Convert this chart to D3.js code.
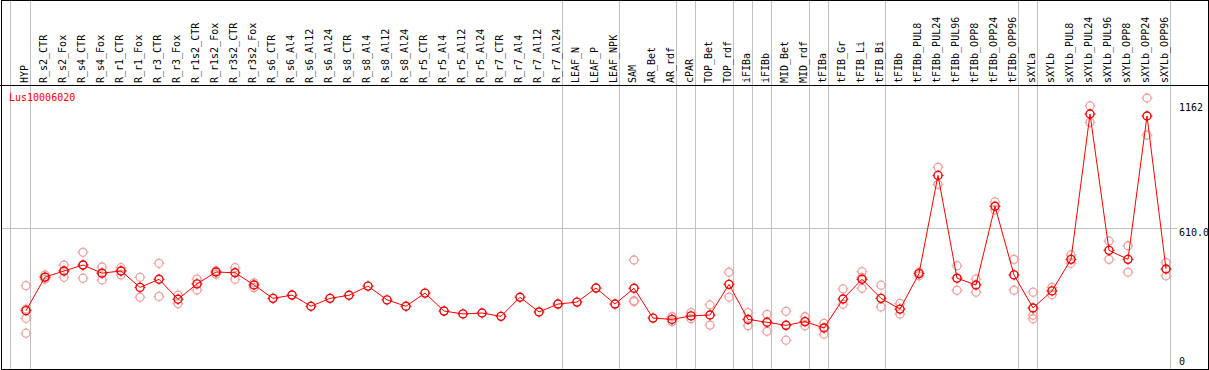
<!DOCTYPE html>
<html>
<head>
<meta charset="utf-8">
<script src="https://cdn.jsdelivr.net/npm/d3@7"></script>
<style>
  body { margin: 0; background: #fff; }
  text { font-family: "DejaVu Sans Mono", monospace; font-size: 10px; }
</style>
</head>
<body>
<div id="chart"></div>
<script>
// datos del gen
const geneId = 'Lus10006020';

const samples = ['HYP',
  'R_s2_CTR','R_s2_Fox','R_s4_CTR','R_s4_Fox','R_r1_CTR','R_r1_Fox','R_r3_CTR','R_r3_Fox',
  'R_r1s2_CTR','R_r1s2_Fox','R_r3s2_CTR','R_r3s2_Fox',
  'R_s6_CTR','R_s6_Al4','R_s6_Al12','R_s6_Al24','R_s8_CTR','R_s8_Al4','R_s8_Al12','R_s8_Al24',
  'R_r5_CTR','R_r5_Al4','R_r5_Al12','R_r5_Al24','R_r7_CTR','R_r7_Al4','R_r7_Al12','R_r7_Al24',
  'LEAF_N','LEAF_P','LEAF_NPK','SAM','AR_Bet','AR_rdf','cPAR','TOP_Bet','TOP_rdf',
  'iFIBa','iFIBb','MID_Bet','MID_rdf','tFIBa','tFIB_Gr','tFIB_Li','tFIB_Bi',
  'tFIBb','tFIBb_PUL8','tFIBb_PUL24','tFIBb_PUL96','tFIBb_OPP8','tFIBb_OPP24','tFIBb_OPP96',
  'sXYLa','sXYLb','sXYLb_PUL8','sXYLb_PUL24','sXYLb_PUL96','sXYLb_OPP8','sXYLb_OPP24','sXYLb_OPP96'];

const means = [233,
  386, 414, 441, 404, 414, 339, 376, 285,
  355, 409, 406, 350,
  289, 304, 253, 289, 303, 345, 282, 253,
  313, 231, 218, 222, 207, 294, 227, 263,
  272, 336, 263, 335, 199, 193, 209, 213, 353,
  193, 180, 166, 183, 154, 286, 376, 289,
  240, 402, 850, 381, 350, 709, 396,
  245, 323, 467, 1130, 508, 467, 1121, 423];

const replicates = [[347, 240, 198, 130],
  [396, 385, 376], [441, 414, 385], [499, 441, 381], [432, 404, 373], [429, 414, 396], [385, 294], [449, 298], [304, 265],
  [377, 327], [415, 399], [429, 376], [360, 338],
  [], [], [], [], [], [], [], [],
  [], [], [], [], [], [], [], [],
  [], [], [], [464, 278, 274], [], [205, 183], [224, 196], [259, 167], [408, 295],
  [224, 164], [216, 139], [230, 98], [205, 164], [175, 125], [332, 262], [411, 385, 335], [349, 250],
  [266, 218], [409, 392], [887, 809], [438, 326], [377, 317], [729, 692], [467, 326],
  [317, 212, 196], [339, 306], [487, 449], [1167, 1092], [551, 467], [529, 408], [1203, 1034], [452, 392]];

// índices de la última muestra de cada grupo
const groupEnds = [0, 28, 31, 34, 35, 37, 38, 39, 41, 42, 45, 52, 53, 60];

const yTicks = [0, 610, 1162];
const yTickLabels = ['0', '610.0', '1162'];

// dimensiones
const width = 1209, height = 370;
const headerH = 85;

const svg = d3.select('#chart').append('svg')
  .attr('width', width)
  .attr('height', height);

const x = d3.scalePoint()
  .domain(samples)
  .range([26, 1166]);

const y = d3.scaleLinear()
  .domain([0, 1162])
  .range([361.7, 107]);

// separadores de grupo
const sepX = [x(samples[0]) - 15.5].concat(groupEnds.map(function(i) { return x(samples[i]) + 4.5; }));
svg.append('g')
  .selectAll('line')
  .data(sepX)
  .enter().append('line')
  .attr('x1', function(d) { return d; })
  .attr('x2', function(d) { return d; })
  .attr('y1', 0)
  .attr('y2', height)
  .attr('stroke', '#c0c0c0')
  .attr('stroke-width', 1);

// línea horizontal de referencia
svg.append('line')
  .attr('x1', 1)
  .attr('x2', 1177)
  .attr('y1', Math.round(y(610)) + 0.5)
  .attr('y2', Math.round(y(610)) + 0.5)
  .attr('stroke', '#c0c0c0');

// eje derecho
const yAxis = function(g) {
  g.call(d3.axisRight(y).tickValues(yTicks).tickSize(0).tickPadding(2)
    .tickFormat(function(d, i) { return yTickLabels[i]; }));
  g.call(function(g) { g.select('.domain').remove(); });
  g.selectAll('text')
    .attr('fill', '#000')
    .style('font-family', '"DejaVu Sans Mono", monospace')
    .style('font-size', '10px')
    .attr('dy', function(d) { return d === 610 ? '0.75em' : '0.32em'; });
};
svg.append('g')
  .attr('transform', 'translate(1177,0)')
  .call(yAxis);

// etiquetas de muestras
svg.append('g')
  .selectAll('text')
  .data(samples)
  .enter().append('text')
  .attr('transform', function(d) { return 'translate(' + (x(d) + 2) + ',83) rotate(-90)'; })
  .attr('fill', '#000')
  .text(function(d) { return d; });

// marcadores
const marker = function(sel, color, sw) {
  sel.append('circle')
    .attr('r', 4)
    .attr('fill', 'none')
    .attr('stroke', color)
    .attr('stroke-width', sw);
  sel.append('path')
    .attr('d', 'M0,-5.5V-4M0,4V5.5M-5.5,0H-4M4,0H5.5')
    .attr('stroke', color)
    .attr('stroke-width', 1);
};

// réplicas
const repPoints = [];
replicates.forEach(function(reps, i) {
  reps.forEach(function(v) { repPoints.push({ s: samples[i], v: v }); });
});
svg.append('g')
  .selectAll('g')
  .data(repPoints)
  .enter().append('g')
  .attr('transform', function(d) { return 'translate(' + x(d.s) + ',' + y(d.v) + ')'; })
  .call(marker, '#f0a0a0', 1.3);

// línea de medias
svg.append('path')
  .datum(means)
  .attr('fill', 'none')
  .attr('stroke', '#ff0000')
  .attr('stroke-width', 1)
  .attr('d', d3.line()
    .x(function(d, i) { return x(samples[i]); })
    .y(function(d) { return y(d); }));

svg.append('g')
  .selectAll('g')
  .data(means)
  .enter().append('g')
  .attr('transform', function(d, i) { return 'translate(' + x(samples[i]) + ',' + y(d) + ')'; })
  .call(marker, '#ee0000', 1.4);

// título
svg.append('text')
  .attr('x', 9)
  .attr('y', 101)
  .attr('fill', '#ff0000')
  .text(geneId);

// bordes
svg.append('line')
  .attr('x1', 0).attr('x2', width)
  .attr('y1', headerH + 0.5).attr('y2', headerH + 0.5)
  .attr('stroke', '#000');
svg.append('rect')
  .attr('x', 1.5).attr('y', 0.5)
  .attr('width', 1207).attr('height', 369)
  .attr('fill', 'none')
  .attr('stroke', '#000');
</script>
</body>
</html>
